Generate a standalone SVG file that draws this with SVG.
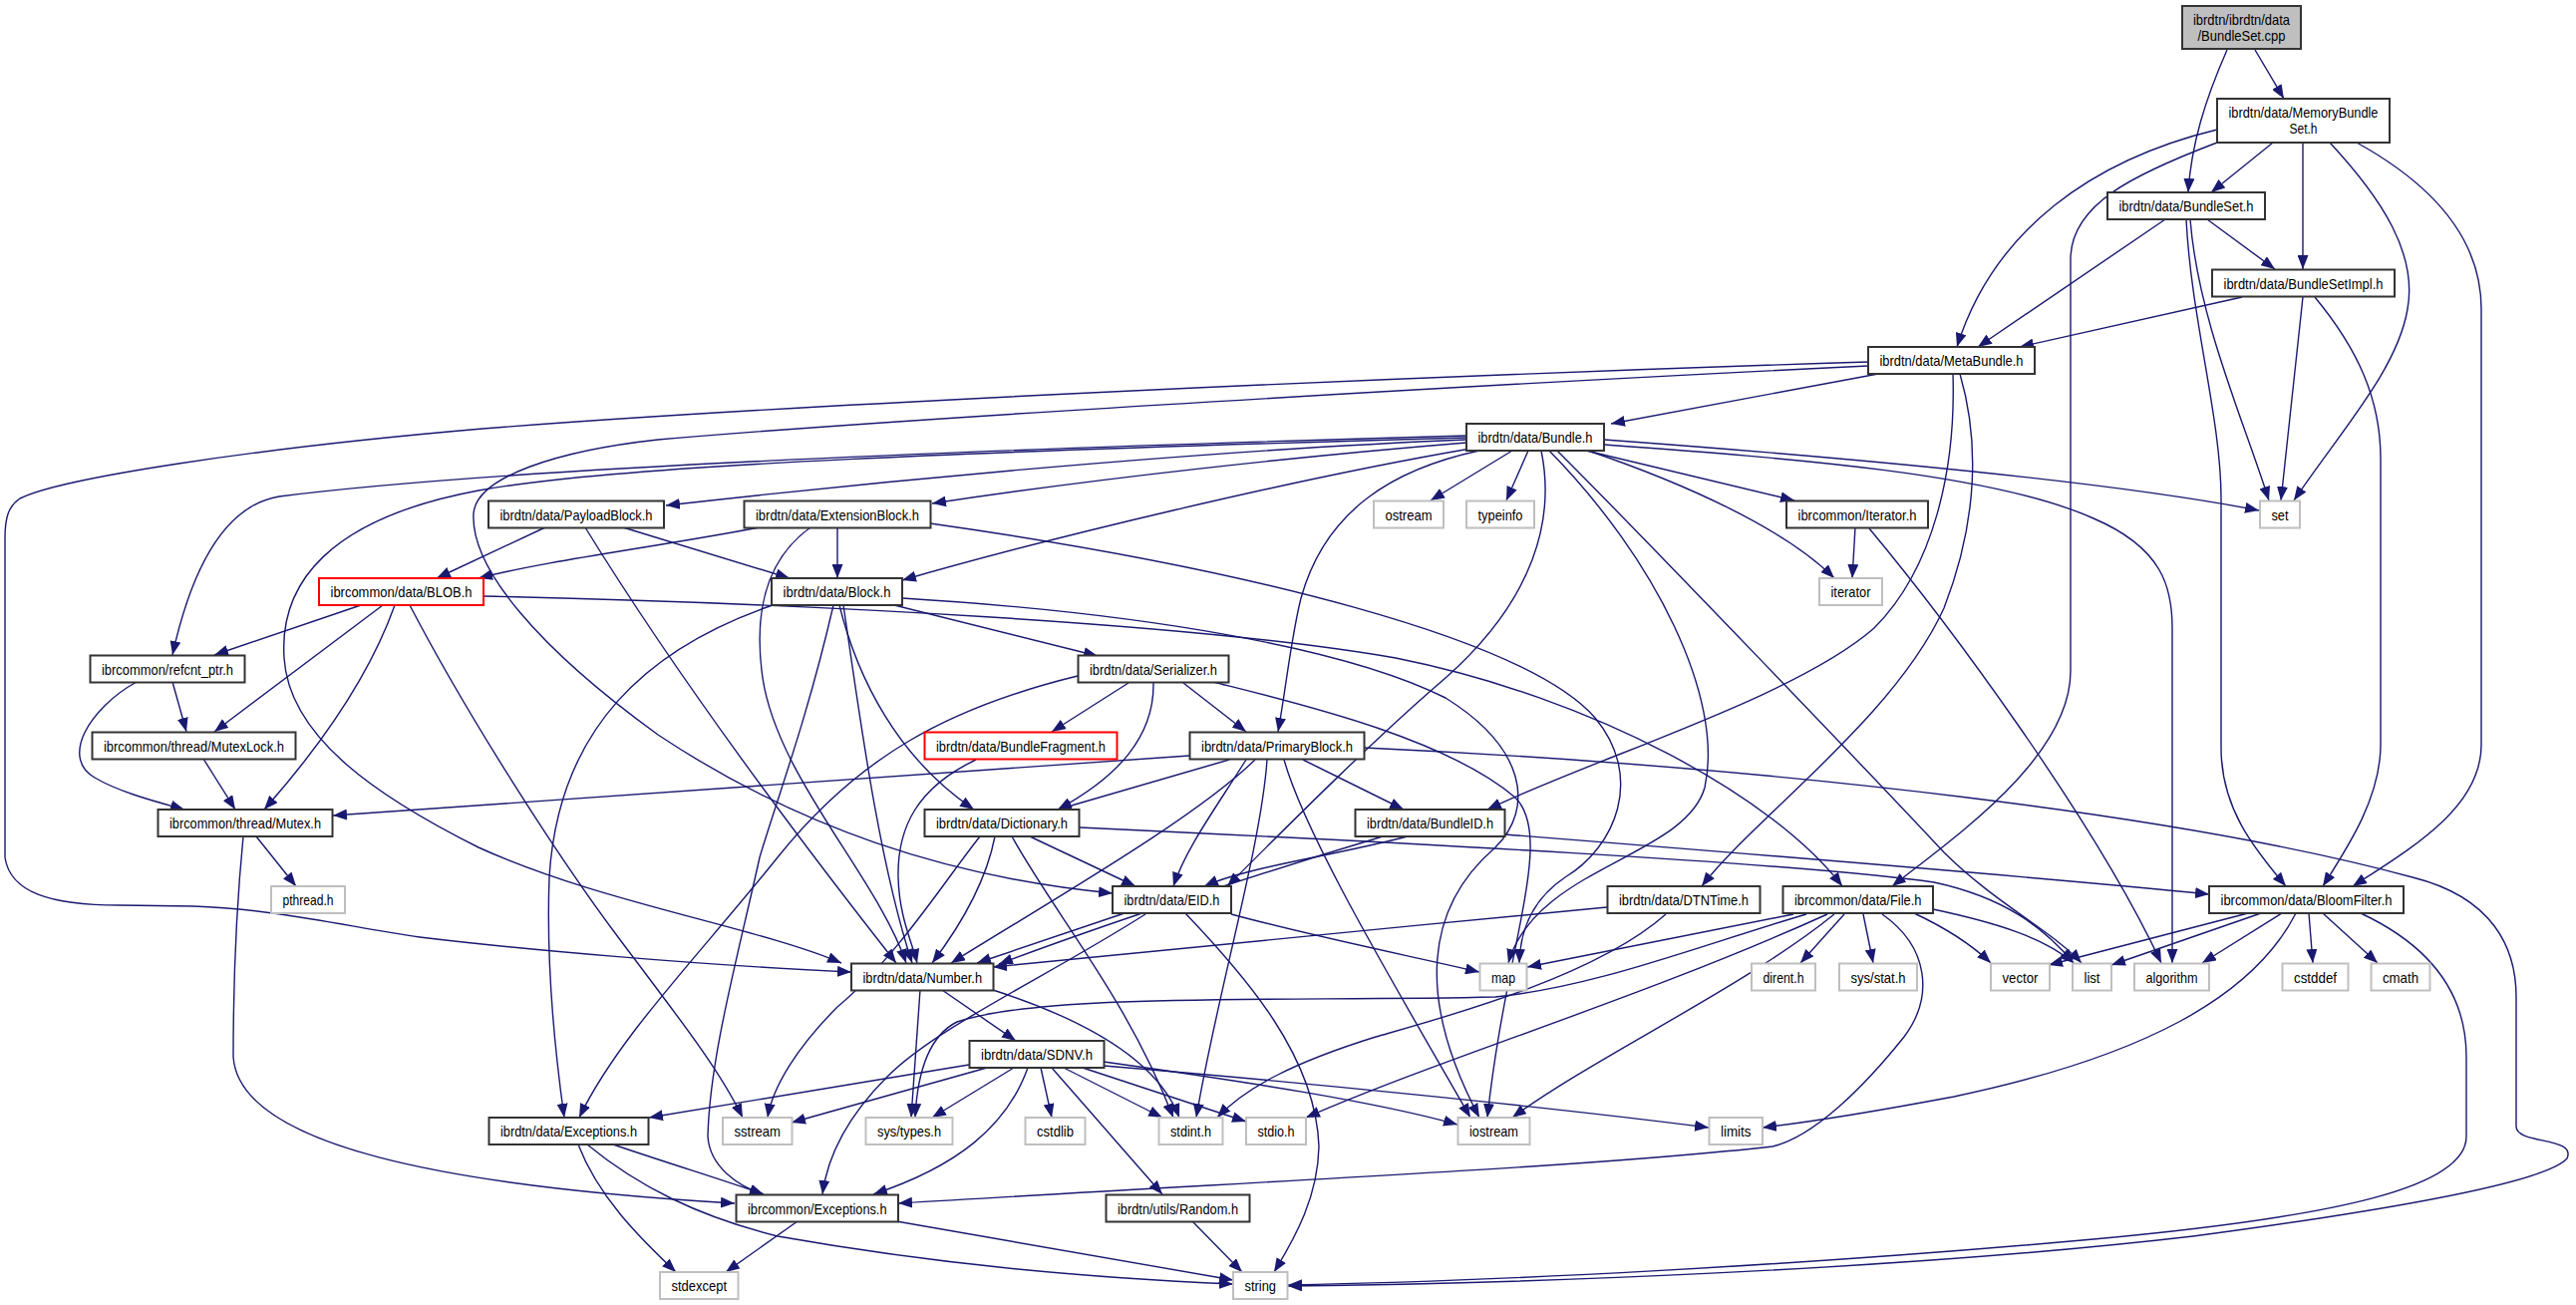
<svg xmlns="http://www.w3.org/2000/svg" width="2584" height="1309" viewBox="0 0 2584 1309">
<style>
.n rect{fill:#fff;stroke:#333;stroke-width:2}
.n.r rect{stroke:#ff0000}
.n.s rect{stroke:#bfbfbf}
.n.root rect{fill:#bfbfbf}
text{font-family:"Liberation Sans",Arial,Helvetica,sans-serif;font-size:14.5px;fill:#000;text-anchor:middle}
.e path{fill:none;stroke:#191970;stroke-width:1.4;marker-end:url(#a)}
</style>
<defs>
<marker id="a" viewBox="0 0 14 11" refX="14" refY="5.5" markerWidth="14" markerHeight="11" markerUnits="userSpaceOnUse" orient="auto"><path d="M0,0L14,5.5L0,11z" fill="#191970"/></marker>
</defs>
<rect width="2584" height="1309" fill="#fff"/>
<g class="e" id="edges">
<path d="M2234,50 C2212,100 2198,145 2195,193"/>
<path d="M2262,50 L2291,99"/>
<path d="M2280,143 L2218,193"/>
<path d="M2310,143 L2310,270"/>
<path d="M2224,130 C2100,160 2000,230 1963,348"/>
<path d="M2337,143 C2390,200 2425,255 2415,310 C2405,370 2350,430 2301,502"/>
<path d="M2364,143 C2440,185 2489,240 2489,310 L2489,747 C2489,810 2420,850 2360,889"/>
<path d="M2224,143 C2140,175 2077,205 2077,260 L2077,673 C2077,760 1960,840 1898,889"/>
<path d="M2172,220 L1984,348"/>
<path d="M2214,220 L2282,270"/>
<path d="M2197,220 C2205,320 2250,420 2276,502"/>
<path d="M2193,220 C2198,320 2228,420 2228,500 L2228,750 C2228,810 2260,850 2293,889"/>
<path d="M2249,298 L2026,348"/>
<path d="M2310,298 L2288,502"/>
<path d="M2322,298 C2365,350 2388,400 2388,460 L2388,747 C2388,800 2355,850 2330,889"/>
<path d="M1884,375 L1616,425"/>
<path d="M1874,363 C1400,378 800,405 484,430 C250,450 60,480 20,500 C8,508 5,520 5,540 L5,860 C10,895 50,908 120,908 L194,909 C280,912 350,930 421,940 C520,952 700,968 854,975"/>
<path d="M1874,367 C1500,385 900,420 660,441 C560,452 478,478 475,515 C472,570 540,650 660,737 C800,830 950,880 1116,896"/>
<path d="M1959,375 C1962,470 1940,570 1880,630 C1800,700 1600,760 1492,812"/>
<path d="M1966,375 C1985,440 1985,520 1950,610 C1900,720 1760,820 1707,889"/>
<path d="M1471,441 C1250,450 950,475 668,507"/>
<path d="M1471,444 C1300,458 1100,480 935,505"/>
<path d="M1475,450 C1300,480 1050,540 905,582"/>
<path d="M1471,437 C1000,450 500,470 280,498 C220,508 190,580 173,657"/>
<path d="M1471,439 C1000,452 620,466 480,492 C330,520 280,585 285,660 C290,740 380,800 480,850 C600,905 760,930 844,966"/>
<path d="M1546,452 C1560,520 1540,600 1450,680 C1380,740 1300,820 1231,889"/>
<path d="M1484,452 C1400,470 1330,510 1305,600 C1295,640 1290,690 1282,734"/>
<path d="M1517,452 L1435,502"/>
<path d="M1533,452 L1511,502"/>
<path d="M1591,452 L1800,502"/>
<path d="M1593,452 C1690,485 1790,530 1840,580"/>
<path d="M1609,441 C1800,455 2100,480 2266,512"/>
<path d="M1609,446 C1800,460 2000,475 2100,520 C2170,550 2179,590 2179,630 L2179,966"/>
<path d="M1562,452 C1650,540 1880,780 1950,855 C2000,905 2060,935 2088,966"/>
<path d="M1554,452 C1660,560 1730,700 1710,790 C1690,860 1540,870 1513,966"/>
<path d="M547,529 L438,580"/>
<path d="M625,529 L792,580"/>
<path d="M587,529 C680,680 800,840 899,966"/>
<path d="M762,529 C650,550 550,562 480,580"/>
<path d="M840,529 L840,580"/>
<path d="M813,529 C770,560 755,610 765,680 C780,780 880,880 909,966"/>
<path d="M933,525 C1250,570 1530,640 1600,720 C1650,780 1620,850 1570,880 C1540,900 1525,930 1524,966"/>
<path d="M1861,529 L1858,580"/>
<path d="M1875,530 C1950,620 2100,820 2168,966"/>
<path d="M362,607 L215,657"/>
<path d="M384,607 L215,734"/>
<path d="M396,607 C370,680 320,750 265,812"/>
<path d="M411,607 C470,720 560,860 620,940 C680,1020 720,1070 745,1121"/>
<path d="M485,598 C800,605 1200,625 1400,660 C1600,700 1780,800 1848,889"/>
<path d="M173,684 L187,734"/>
<path d="M137,684 C90,710 60,760 95,780 C120,795 160,805 185,812"/>
<path d="M204,761 L236,812"/>
<path d="M257,839 L297,889"/>
<path d="M244,839 C238,900 234,980 234,1060 C240,1150 450,1190 737,1207"/>
<path d="M897,607 L1101,658"/>
<path d="M842,607 C860,680 900,760 977,812"/>
<path d="M775,607 C650,650 560,730 551,880 C548,960 556,1050 566,1121"/>
<path d="M836,607 C810,720 780,800 762,860 C740,960 712,1060 710,1140 C712,1170 740,1190 766,1198"/>
<path d="M846,607 C860,700 880,860 915,966"/>
<path d="M905,600 C1150,615 1350,650 1450,700 C1530,750 1540,810 1500,850 C1430,910 1420,1000 1484,1121"/>
<path d="M1132,685 L1055,734"/>
<path d="M1157,685 C1158,740 1120,780 1061,812"/>
<path d="M1187,685 L1250,734"/>
<path d="M1081,678 C950,710 860,760 780,860 C700,960 620,1040 581,1121"/>
<path d="M1217,684 C1300,705 1450,740 1520,800 C1560,840 1510,950 1492,1121"/>
<path d="M1193,758 L334,818"/>
<path d="M1233,762 L1061,812"/>
<path d="M1259,762 C1200,820 1060,900 954,966"/>
<path d="M1250,762 C1220,810 1190,850 1177,889"/>
<path d="M1307,762 L1408,812"/>
<path d="M1271,762 C1265,850 1220,1000 1200,1121"/>
<path d="M1288,762 C1310,840 1400,990 1475,1121"/>
<path d="M1368,750 C1800,770 2200,820 2420,880 C2500,900 2524,950 2524,1000 L2524,1130 C2524,1148 2585,1140 2575,1162 C2550,1190 2350,1220 2200,1240 C1900,1275 1500,1288 1292,1290"/>
<path d="M979,762 C920,790 900,830 901,880 C902,920 915,945 920,966"/>
<path d="M983,839 C950,880 900,960 840,1010 C800,1050 775,1090 770,1121"/>
<path d="M998,839 C990,880 970,920 935,966"/>
<path d="M1015,839 C1060,920 1130,1000 1177,1121"/>
<path d="M1033,839 L1139,889"/>
<path d="M1083,830 C1400,845 1800,865 1940,885 C2010,900 2050,930 2080,966"/>
<path d="M1387,839 C1250,880 1100,930 1002,967"/>
<path d="M1412,839 C1330,860 1250,870 1208,889"/>
<path d="M1510,837 C1800,860 2050,880 2216,897"/>
<path d="M1128,916 L980,966"/>
<path d="M1235,917 C1320,940 1420,960 1484,975"/>
<path d="M1149,917 C1050,980 940,1030 890,1080 C850,1120 830,1160 825,1198"/>
<path d="M1189,916 C1250,980 1320,1060 1323,1150 C1322,1200 1300,1240 1278,1276"/>
<path d="M1612,910 C1400,930 1150,955 996,970"/>
<path d="M1671,917 C1600,980 1450,1020 1380,1040 C1300,1065 1250,1090 1221,1121"/>
<path d="M1799,917 L1532,970"/>
<path d="M1812,917 C1700,950 1600,990 1500,1000 C1300,1005 1050,995 960,1025 C930,1040 920,1080 918,1121"/>
<path d="M1833,917 C1650,1000 1450,1060 1310,1121"/>
<path d="M1840,917 C1750,990 1600,1060 1517,1121"/>
<path d="M1850,917 L1806,966"/>
<path d="M1869,917 L1879,966"/>
<path d="M1888,917 C1935,950 1940,1000 1910,1040 C1870,1090 1820,1140 1778,1150 C1600,1170 1300,1183 901,1207"/>
<path d="M1920,916 C1950,930 1975,945 1997,966"/>
<path d="M1939,912 C2000,925 2050,940 2080,966"/>
<path d="M2255,916 L2055,968"/>
<path d="M2268,916 L2118,968"/>
<path d="M2289,916 L2209,966"/>
<path d="M2316,916 L2320,966"/>
<path d="M2330,916 L2385,966"/>
<path d="M2303,916 C2260,1000 2150,1060 1960,1100 C1880,1115 1820,1125 1768,1131"/>
<path d="M2368,916 C2430,945 2474,990 2474,1060 L2474,1140 C2474,1190 2350,1220 2100,1243 C1800,1270 1500,1285 1292,1289"/>
<path d="M945,993 L1019,1044"/>
<path d="M923,993 L914,1121"/>
<path d="M996,993 C1080,1020 1160,1060 1183,1121"/>
<path d="M972,1068 L651,1121"/>
<path d="M990,1071 L794,1126"/>
<path d="M1017,1071 L935,1121"/>
<path d="M1031,1071 C1010,1130 960,1170 876,1198"/>
<path d="M1044,1071 L1055,1121"/>
<path d="M1055,1071 L1166,1198"/>
<path d="M1067,1071 L1166,1121"/>
<path d="M1086,1071 L1250,1125"/>
<path d="M1107,1065 C1250,1085 1380,1105 1462,1128"/>
<path d="M1107,1069 C1300,1085 1550,1110 1714,1131"/>
<path d="M615,1148 C680,1170 730,1185 766,1198"/>
<path d="M580,1148 C600,1200 640,1240 678,1276"/>
<path d="M589,1148 C640,1190 700,1220 780,1240 C950,1270 1100,1282 1237,1288"/>
<path d="M800,1225 L728,1276"/>
<path d="M899,1225 L1237,1284"/>
<path d="M1196,1225 L1246,1276"/>
</g>
<g class="n root" id="BundleSet_cpp"><rect x="2189" y="6" width="119" height="43"/><text x="2248.5" y="25" textLength="97" lengthAdjust="spacingAndGlyphs">ibrdtn/ibrdtn/data</text><text x="2248.5" y="41" textLength="88" lengthAdjust="spacingAndGlyphs">/BundleSet.cpp</text></g>
<g class="n" id="MemoryBundleSet_h"><rect x="2224" y="99" width="173" height="44"/><text x="2310.5" y="118" textLength="150" lengthAdjust="spacingAndGlyphs">ibrdtn/data/MemoryBundle</text><text x="2310.5" y="134" textLength="28" lengthAdjust="spacingAndGlyphs">Set.h</text></g>
<g class="n" id="BundleSet_h"><rect x="2114" y="193" width="158" height="27"/><text x="2193" y="212" textLength="135" lengthAdjust="spacingAndGlyphs">ibrdtn/data/BundleSet.h</text></g>
<g class="n" id="BundleSetImpl_h"><rect x="2219" y="270.5" width="183" height="27"/><text x="2310.5" y="289.5" textLength="160" lengthAdjust="spacingAndGlyphs">ibrdtn/data/BundleSetImpl.h</text></g>
<g class="n" id="MetaBundle_h"><rect x="1874" y="348" width="167" height="27"/><text x="1957.5" y="367" textLength="144" lengthAdjust="spacingAndGlyphs">ibrdtn/data/MetaBundle.h</text></g>
<g class="n" id="Bundle_h"><rect x="1471" y="425" width="138" height="27"/><text x="1540" y="444" textLength="115" lengthAdjust="spacingAndGlyphs">ibrdtn/data/Bundle.h</text></g>
<g class="n" id="PayloadBlock_h"><rect x="490" y="502.5" width="176" height="27"/><text x="578" y="521.5" textLength="153" lengthAdjust="spacingAndGlyphs">ibrdtn/data/PayloadBlock.h</text></g>
<g class="n" id="ExtensionBlock_h"><rect x="746.5" y="502.5" width="187" height="27"/><text x="840" y="521.5" textLength="164" lengthAdjust="spacingAndGlyphs">ibrdtn/data/ExtensionBlock.h</text></g>
<g class="n s" id="ostream"><rect x="1378" y="502.5" width="70" height="27"/><text x="1413" y="521.5" textLength="47" lengthAdjust="spacingAndGlyphs">ostream</text></g>
<g class="n s" id="typeinfo"><rect x="1471" y="502.5" width="68" height="27"/><text x="1505" y="521.5" textLength="45" lengthAdjust="spacingAndGlyphs">typeinfo</text></g>
<g class="n" id="Iterator_h"><rect x="1792" y="502.5" width="142" height="27"/><text x="1863" y="521.5" textLength="119" lengthAdjust="spacingAndGlyphs">ibrcommon/Iterator.h</text></g>
<g class="n s" id="set"><rect x="2267" y="502.5" width="40" height="27"/><text x="2287" y="521.5" textLength="17" lengthAdjust="spacingAndGlyphs">set</text></g>
<g class="n r" id="BLOB_h"><rect x="320" y="580" width="165" height="27"/><text x="402.5" y="599" textLength="142" lengthAdjust="spacingAndGlyphs">ibrcommon/data/BLOB.h</text></g>
<g class="n" id="Block_h"><rect x="774" y="580" width="131" height="27"/><text x="839.5" y="599" textLength="108" lengthAdjust="spacingAndGlyphs">ibrdtn/data/Block.h</text></g>
<g class="n s" id="iterator"><rect x="1825" y="580" width="63" height="27"/><text x="1856.5" y="599" textLength="40" lengthAdjust="spacingAndGlyphs">iterator</text></g>
<g class="n" id="refcnt_ptr_h"><rect x="90.5" y="657.5" width="155" height="27"/><text x="168" y="676.5" textLength="132" lengthAdjust="spacingAndGlyphs">ibrcommon/refcnt_ptr.h</text></g>
<g class="n" id="Serializer_h"><rect x="1081.5" y="657.5" width="151" height="27"/><text x="1157" y="676.5" textLength="128" lengthAdjust="spacingAndGlyphs">ibrdtn/data/Serializer.h</text></g>
<g class="n" id="MutexLock_h"><rect x="92.5" y="734.5" width="204" height="27"/><text x="194.5" y="753.5" textLength="181" lengthAdjust="spacingAndGlyphs">ibrcommon/thread/MutexLock.h</text></g>
<g class="n r" id="BundleFragment_h"><rect x="927.5" y="734.5" width="193" height="27"/><text x="1024" y="753.5" textLength="170" lengthAdjust="spacingAndGlyphs">ibrdtn/data/BundleFragment.h</text></g>
<g class="n" id="PrimaryBlock_h"><rect x="1193.5" y="734.5" width="175" height="27"/><text x="1281" y="753.5" textLength="152" lengthAdjust="spacingAndGlyphs">ibrdtn/data/PrimaryBlock.h</text></g>
<g class="n" id="Mutex_h"><rect x="158.5" y="812" width="175" height="27"/><text x="246" y="831" textLength="152" lengthAdjust="spacingAndGlyphs">ibrcommon/thread/Mutex.h</text></g>
<g class="n" id="Dictionary_h"><rect x="927.5" y="812" width="155" height="27"/><text x="1005" y="831" textLength="132" lengthAdjust="spacingAndGlyphs">ibrdtn/data/Dictionary.h</text></g>
<g class="n" id="BundleID_h"><rect x="1359.5" y="812" width="150" height="27"/><text x="1434.5" y="831" textLength="127" lengthAdjust="spacingAndGlyphs">ibrdtn/data/BundleID.h</text></g>
<g class="n s" id="pthread_h"><rect x="272" y="889" width="74" height="27"/><text x="309" y="908" textLength="51" lengthAdjust="spacingAndGlyphs">pthread.h</text></g>
<g class="n" id="EID_h"><rect x="1116" y="889" width="119" height="27"/><text x="1175.5" y="908" textLength="96" lengthAdjust="spacingAndGlyphs">ibrdtn/data/EID.h</text></g>
<g class="n" id="DTNTime_h"><rect x="1612.5" y="889" width="153" height="27"/><text x="1689" y="908" textLength="130" lengthAdjust="spacingAndGlyphs">ibrdtn/data/DTNTime.h</text></g>
<g class="n" id="File_h"><rect x="1788.5" y="889" width="150.5" height="27"/><text x="1863.75" y="908" textLength="127.5" lengthAdjust="spacingAndGlyphs">ibrcommon/data/File.h</text></g>
<g class="n" id="BloomFilter_h"><rect x="2216" y="889" width="195" height="27"/><text x="2313.5" y="908" textLength="172" lengthAdjust="spacingAndGlyphs">ibrcommon/data/BloomFilter.h</text></g>
<g class="n" id="Number_h"><rect x="854" y="966.5" width="142.5" height="27"/><text x="925.25" y="985.5" textLength="119.5" lengthAdjust="spacingAndGlyphs">ibrdtn/data/Number.h</text></g>
<g class="n s" id="map"><rect x="1484.5" y="966.5" width="47" height="27"/><text x="1508" y="985.5" textLength="24" lengthAdjust="spacingAndGlyphs">map</text></g>
<g class="n s" id="dirent_h"><rect x="1757" y="966.5" width="64" height="27"/><text x="1789" y="985.5" textLength="41" lengthAdjust="spacingAndGlyphs">dirent.h</text></g>
<g class="n s" id="sys_stat_h"><rect x="1845" y="966.5" width="78" height="27"/><text x="1884" y="985.5" textLength="55" lengthAdjust="spacingAndGlyphs">sys/stat.h</text></g>
<g class="n s" id="vector"><rect x="1997" y="966.5" width="59" height="27"/><text x="2026.5" y="985.5" textLength="36" lengthAdjust="spacingAndGlyphs">vector</text></g>
<g class="n s" id="list"><rect x="2079" y="966.5" width="39" height="27"/><text x="2098.5" y="985.5" textLength="16" lengthAdjust="spacingAndGlyphs">list</text></g>
<g class="n s" id="algorithm"><rect x="2141" y="966.5" width="75" height="27"/><text x="2178.5" y="985.5" textLength="52" lengthAdjust="spacingAndGlyphs">algorithm</text></g>
<g class="n s" id="cstddef"><rect x="2289.5" y="966.5" width="66" height="27"/><text x="2322.5" y="985.5" textLength="43" lengthAdjust="spacingAndGlyphs">cstddef</text></g>
<g class="n s" id="cmath"><rect x="2378.5" y="966.5" width="59" height="27"/><text x="2408" y="985.5" textLength="36" lengthAdjust="spacingAndGlyphs">cmath</text></g>
<g class="n" id="SDNV_h"><rect x="972.5" y="1044" width="135" height="27"/><text x="1040" y="1063" textLength="112" lengthAdjust="spacingAndGlyphs">ibrdtn/data/SDNV.h</text></g>
<g class="n" id="data_Exceptions_h"><rect x="490.5" y="1121" width="160" height="27"/><text x="570.5" y="1140" textLength="137" lengthAdjust="spacingAndGlyphs">ibrdtn/data/Exceptions.h</text></g>
<g class="n s" id="sstream"><rect x="725" y="1121" width="69.5" height="27"/><text x="759.75" y="1140" textLength="46.5" lengthAdjust="spacingAndGlyphs">sstream</text></g>
<g class="n s" id="sys_types_h"><rect x="868.5" y="1121" width="87" height="27"/><text x="912" y="1140" textLength="64" lengthAdjust="spacingAndGlyphs">sys/types.h</text></g>
<g class="n s" id="cstdlib"><rect x="1028.5" y="1121" width="60" height="27"/><text x="1058.5" y="1140" textLength="37" lengthAdjust="spacingAndGlyphs">cstdlib</text></g>
<g class="n s" id="stdint_h"><rect x="1162.5" y="1121" width="64" height="27"/><text x="1194.5" y="1140" textLength="41" lengthAdjust="spacingAndGlyphs">stdint.h</text></g>
<g class="n s" id="stdio_h"><rect x="1250" y="1121" width="60" height="27"/><text x="1280" y="1140" textLength="37" lengthAdjust="spacingAndGlyphs">stdio.h</text></g>
<g class="n s" id="iostream"><rect x="1462.5" y="1121" width="72" height="27"/><text x="1498.5" y="1140" textLength="49" lengthAdjust="spacingAndGlyphs">iostream</text></g>
<g class="n s" id="limits"><rect x="1714.5" y="1121" width="53.5" height="27"/><text x="1741.25" y="1140" textLength="30.5" lengthAdjust="spacingAndGlyphs">limits</text></g>
<g class="n" id="ibrcommon_Exceptions_h"><rect x="738.5" y="1198.5" width="162.5" height="27"/><text x="819.75" y="1217.5" textLength="139.5" lengthAdjust="spacingAndGlyphs">ibrcommon/Exceptions.h</text></g>
<g class="n" id="Random_h"><rect x="1109.5" y="1198.5" width="144" height="27"/><text x="1181.5" y="1217.5" textLength="121" lengthAdjust="spacingAndGlyphs">ibrdtn/utils/Random.h</text></g>
<g class="n s" id="stdexcept"><rect x="662" y="1276" width="78.5" height="27"/><text x="701.25" y="1295" textLength="55.5" lengthAdjust="spacingAndGlyphs">stdexcept</text></g>
<g class="n s" id="string"><rect x="1237" y="1276" width="54.5" height="27"/><text x="1264.25" y="1295" textLength="31.5" lengthAdjust="spacingAndGlyphs">string</text></g>
</svg>
